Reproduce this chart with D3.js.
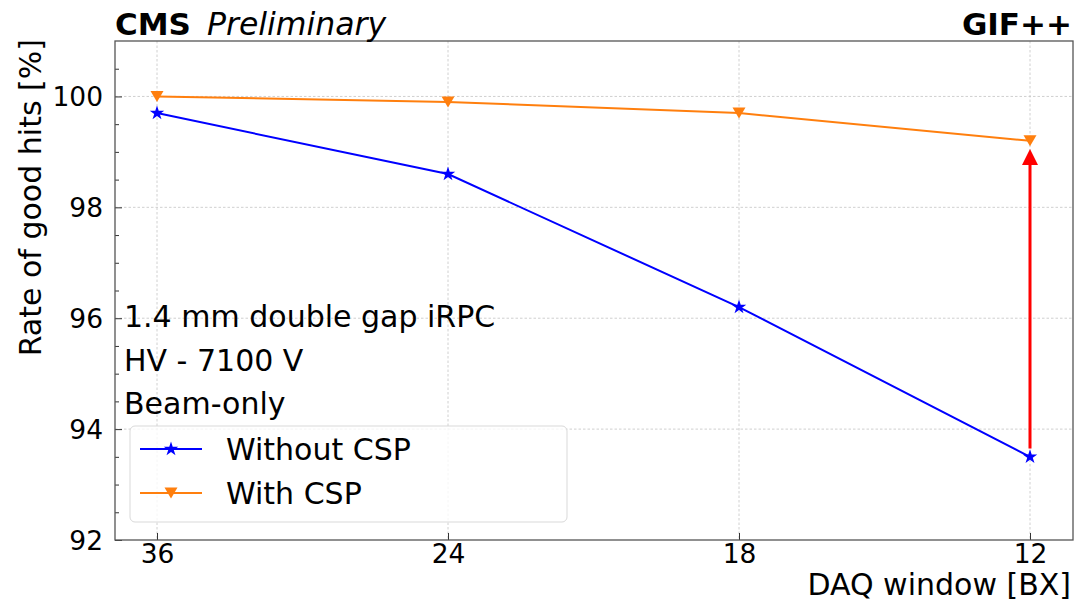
<!DOCTYPE html>
<html>
<head>
<meta charset="utf-8">
<script src="https://cdn.jsdelivr.net/npm/d3@7"></script>
<style>
  html, body { margin: 0; padding: 0; background: #fff; }
  svg { display: block; font-family: "DejaVu Sans", sans-serif; }
</style>
</head>
<body>
<svg id="chart" width="1076" height="604"></svg>
<script>
// ---- data ----
const categories = ["36", "24", "18", "12"];
const withoutCSP = [99.7, 98.6, 96.2, 93.5];
const withCSP = [100.0, 99.9, 99.7, 99.2];
const yTicks = [92, 94, 96, 98, 100];
const yMinorTicks = [92.5, 93, 93.5, 94.5, 95, 95.5, 96.5, 97, 97.5, 98.5, 99, 99.5, 100.5];
const arrowFrom = 93.65, arrowTo = 99.05;
const seriesNames = ["Without CSP", "With CSP"];
const infoLines = ["1.4 mm double gap iRPC", "HV - 7100 V", "Beam-only"];

// ---- layout ----
const L = 115, R = 1073, T = 41, B = 540;
const svg = d3.select("#chart");

const x = d3.scalePoint().domain(categories).range([157, 1030]);
const y = d3.scaleLinear().domain([92, 101]).range([B, T]);

const g = svg.append("g");

// grid
g.selectAll(".gx").data(categories).join("line")
  .attr("x1", d => x(d)).attr("x2", d => x(d))
  .attr("y1", T).attr("y2", B)
  .attr("stroke", "#c4c4c4").attr("stroke-width", 0.8).attr("stroke-dasharray", "2.5,2");
g.selectAll(".gy").data(yTicks.filter(v => v > 92)).join("line")
  .attr("x1", L).attr("x2", R)
  .attr("y1", d => y(d)).attr("y2", d => y(d))
  .attr("stroke", "#c4c4c4").attr("stroke-width", 0.8).attr("stroke-dasharray", "2.5,2");

// axes via d3 (inward ticks)
const yAxis = d3.axisLeft(y).tickValues(yTicks).tickSize(-7).tickPadding(12).tickFormat(d3.format("d"));
const yg = svg.append("g").attr("transform", `translate(${L},0)`).call(yAxis);
yg.select(".domain").remove();
yg.selectAll("line").attr("stroke", "#333").attr("stroke-width", 1);
yg.selectAll("text").attr("font-size", 26.5).attr("fill", "#000").attr("font-family", "DejaVu Sans").attr("x", -12).attr("dy", "0.35em");

const yMinor = d3.axisLeft(y).tickValues(yMinorTicks).tickSize(-4).tickFormat("");
const ymg = svg.append("g").attr("transform", `translate(${L},0)`).call(yMinor);
ymg.select(".domain").remove();
ymg.selectAll("line").attr("stroke", "#333").attr("stroke-width", 1);

const xAxis = d3.axisBottom(x).tickSize(-7).tickPadding(12);
const xg = svg.append("g").attr("transform", `translate(0,${B})`).call(xAxis);
xg.select(".domain").remove();
xg.selectAll("line").attr("stroke", "#333").attr("stroke-width", 1);
xg.selectAll("text").attr("font-size", 26.5).attr("fill", "#000").attr("font-family", "DejaVu Sans").attr("y", 23).attr("dy", "0");

// frame
svg.append("rect").attr("x", L).attr("y", T).attr("width", R - L).attr("height", B - T)
  .attr("fill", "none").attr("stroke", "#555").attr("stroke-width", 1.3);

// lines
const line = d3.line().x((d, i) => x(categories[i])).y(d => y(d));
svg.append("path").datum(withoutCSP).attr("d", line)
  .attr("fill", "none").attr("stroke", "#0000ff").attr("stroke-width", 2);
svg.append("path").datum(withCSP).attr("d", line)
  .attr("fill", "none").attr("stroke", "#ff7f0e").attr("stroke-width", 2);

const star = d3.symbol().type(d3.symbolStar).size(65);
const triPath = "M-6.5,-5.5L6.5,-5.5L0,5.5Z";

svg.selectAll(".st").data(withoutCSP).join("path")
  .attr("d", star)
  .attr("transform", (d, i) => `translate(${x(categories[i])},${y(d)})`)
  .attr("fill", "#0000ff");
svg.selectAll(".tr").data(withCSP).join("path")
  .attr("d", triPath)
  .attr("transform", (d, i) => `translate(${x(categories[i])},${y(d)})`)
  .attr("fill", "#ff7f0e");

// arrow
const ax = x(categories[3]);
const headLen = 16, headW = 16;
svg.append("line").attr("x1", ax).attr("x2", ax)
  .attr("y1", y(arrowFrom)).attr("y2", y(arrowTo) + headLen - 1)
  .attr("stroke", "#ff0000").attr("stroke-width", 3);
svg.append("path")
  .attr("d", `M${ax},${y(arrowTo)}L${ax - headW / 2},${y(arrowTo) + headLen}L${ax + headW / 2},${y(arrowTo) + headLen}Z`)
  .attr("fill", "#ff0000");

// info text
svg.selectAll(".info").data(infoLines).join("text")
  .attr("x", 124).attr("y", (d, i) => 327 + i * 43.5)
  .attr("font-size", 30).attr("fill", "#000").text(d => d);

// legend
const lg = svg.append("g");
lg.append("rect").attr("x", 130).attr("y", 426).attr("width", 437).attr("height", 96)
  .attr("rx", 5).attr("fill", "#fff").attr("fill-opacity", 0.8)
  .attr("stroke", "#d9d9d9").attr("stroke-width", 1);
const legendRows = [
  { name: seriesNames[0], color: "#0000ff", marker: "star", cy: 449 },
  { name: seriesNames[1], color: "#ff7f0e", marker: "tri", cy: 493 }
];
legendRows.forEach(r => {
  lg.append("line").attr("x1", 140).attr("x2", 202).attr("y1", r.cy).attr("y2", r.cy)
    .attr("stroke", r.color).attr("stroke-width", 2);
  lg.append("path").attr("d", r.marker === "star" ? star() : triPath)
    .attr("transform", `translate(171,${r.cy})`).attr("fill", r.color);
  lg.append("text").attr("x", 226).attr("y", r.cy + 11).attr("font-size", 30)
    .attr("fill", "#000").text(r.name);
});

// axis labels
svg.append("text").attr("x", R - 2).attr("y", 595).attr("text-anchor", "end")
  .attr("font-size", 30).attr("fill", "#000").text("DAQ window [BX]");
svg.append("text").attr("transform", `translate(41,${T - 2}) rotate(-90)`).attr("text-anchor", "end")
  .attr("font-size", 30).attr("fill", "#000").text("Rate of good hits [%]");

// header
svg.append("text").attr("x", 115).attr("y", 35).attr("font-size", 31).attr("font-weight", "bold")
  .attr("fill", "#000").text("CMS");
svg.append("text").attr("x", 207).attr("y", 35).attr("font-size", 31.5).attr("font-style", "italic")
  .attr("fill", "#000").text("Preliminary");
svg.append("text").attr("x", 1072).attr("y", 35).attr("font-size", 31).attr("font-weight", "bold")
  .attr("text-anchor", "end").attr("fill", "#000").text("GIF++");
</script>
</body>
</html>
